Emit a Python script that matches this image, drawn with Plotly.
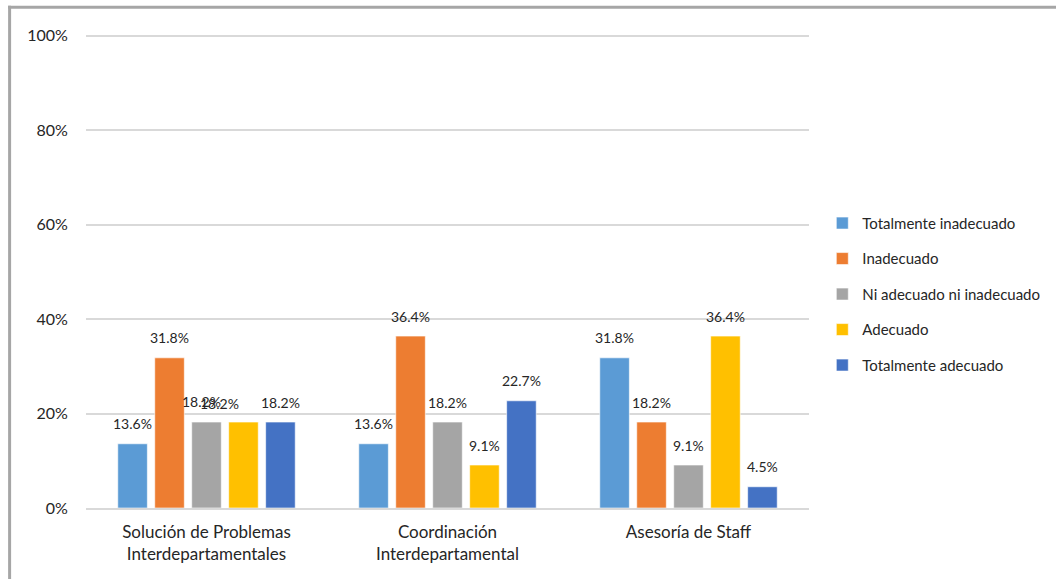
import plotly.graph_objects as go

categories = ["Solución de Problemas<br>Interdepartamentales",
              "Coordinación<br>Interdepartamental",
              "Asesoría de Staff"]
series_names = ["Totalmente inadecuado", "Inadecuado", "Ni adecuado ni inadecuado",
                "Adecuado", "Totalmente adecuado"]
totalmente_inadecuado = [0.136, 0.136, 0.318]
inadecuado = [0.318, 0.364, 0.182]
ni_adecuado = [0.182, 0.182, 0.091]
adecuado = [0.182, 0.091, 0.364]
totalmente_adecuado = [0.182, 0.227, 0.045]
y_ticks = [0, 0.2, 0.4, 0.6, 0.8, 1.0]
y_tick_labels = ["0%", "20%", "40%", "60%", "80%", "100%"]

series_values = [totalmente_inadecuado, inadecuado, ni_adecuado, adecuado, totalmente_adecuado]
colors = ["#5B9BD5", "#ED7D31", "#A5A5A5", "#FFC000", "#4472C4"]

FONT = "Lato"
TXT = "#262626"
BARGAP = 0.233
YMAX = 1.01
PX_PER_UNIT = 472
TOP = 508 - YMAX * PX_PER_UNIT  # top margin so that 100% sits at y=36

fig = go.Figure()
for i, (name, vals) in enumerate(zip(series_names, series_values)):
    fig.add_trace(go.Bar(
        x=list(range(len(categories))), y=vals, name=name,
        marker=dict(color=colors[i], line=dict(color="rgba(255,255,255,0.6)", width=1)),
        legendgroup=f"g{i}",
    ))

# data labels (Excel style: ~20px above bar top); nudges for overlapping labels
nudge = {(2, 0): (-5, 1), (3, 0): (-24, -1)}
n = len(series_names)
slot = (1 - BARGAP) / n
annotations = []
for j, vals in enumerate(series_values):
    for i, v in enumerate(vals):
        dx, dy = nudge.get((j, i), (0, 0))
        annotations.append(dict(
            x=i + (j - (n - 1) / 2) * slot, y=v, xref="x", yref="y",
            text=f"{v*100:.1f}%", showarrow=False, yanchor="middle",
            yshift=20 + dy, xshift=dx, font=dict(family=FONT, size=14, color=TXT)))

plot_h = 579 - TOP - 71
def py(px):
    return (508 - px) / plot_h

fig.update_layout(
    width=1056, height=579,
    paper_bgcolor="white", plot_bgcolor="white",
    margin=dict(l=86, r=246, t=TOP, b=71),
    barmode="group", bargap=BARGAP, bargroupgap=0.2,
    font=dict(family=FONT, size=16, color=TXT),
    annotations=annotations,
    legend=dict(x=1.017, y=py(207), xanchor="left", yanchor="top",
                font=dict(family=FONT, size=15, color=TXT),
                tracegroupgap=13, itemwidth=30),
    xaxis=dict(tickmode="array", tickvals=list(range(len(categories))), ticktext=categories,
               range=[-0.5, len(categories) - 0.5], showgrid=False, showline=True,
               linecolor="#D9D9D9", linewidth=1.5, ticks="outside", ticklen=8,
               tickcolor="rgba(0,0,0,0)", tickfont=dict(family=FONT, size=17, color=TXT)),
    yaxis=dict(range=[0, YMAX], tickvals=y_ticks, ticktext=y_tick_labels, showgrid=True,
               gridcolor="#D9D9D9", gridwidth=1.5, zeroline=False, showline=False,
               ticks="outside", ticklen=14, tickcolor="rgba(0,0,0,0)",
               tickfont=dict(family=FONT, size=16, color=TXT)),
    shapes=[
        dict(type="line", xref="paper", yref="paper", x0=(9.5 - 86) / 724, x1=(9.5 - 86) / 724,
             y0=py(6), y1=py(600), line=dict(color="#A6A6A6", width=3)),
        dict(type="line", xref="paper", yref="paper", x0=(8 - 86) / 724, x1=(1100 - 86) / 724,
             y0=py(7.5), y1=py(7.5), line=dict(color="#A6A6A6", width=3)),
    ],
)

fig.write_html("out.html")
